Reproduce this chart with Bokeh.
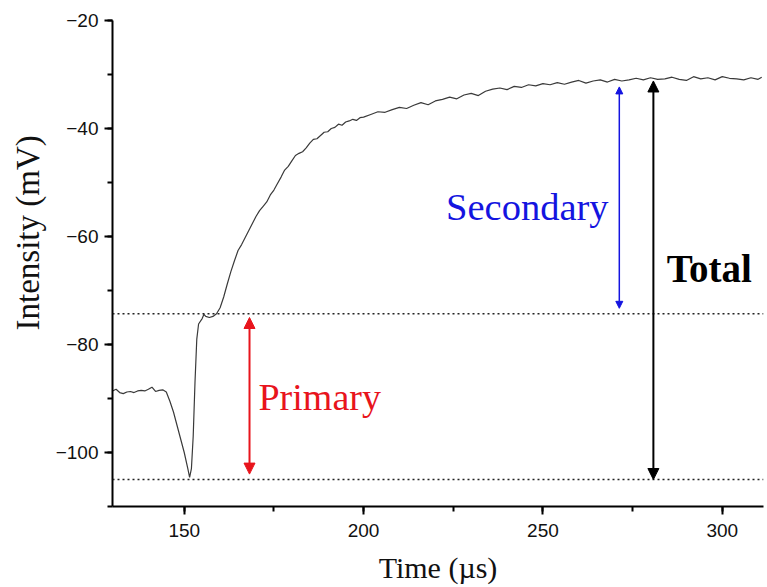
from bokeh.plotting import figure
from bokeh.models import Range1d, SingleIntervalTicker, Span, Arrow, NormalHead, Title
from bokeh.core.properties import value
from bokeh.embed import file_html
from bokeh.resources import INLINE

# Time (µs) and intensity (mV)
time_us = [130, 131, 132, 133, 134, 135, 136, 137, 138, 139, 140, 141, 142, 143, 144, 145,
           146, 147, 148, 149, 150, 151, 151.5, 152, 152.5, 153, 153.5, 154, 155, 155.5,
           156, 157, 158, 159, 160, 161, 162, 163, 164, 165, 166, 167, 168, 169, 170,
           171, 172, 173, 174, 175, 176, 177, 178, 179, 180, 181, 182, 183, 184, 185,
           186, 187, 188, 189, 190, 191, 192, 193, 194, 195, 196, 197, 198, 199, 200,
           202, 204, 206, 208, 210, 212, 214, 216, 218, 220, 222, 224, 226, 228, 230,
           232, 234, 236, 238, 240, 242, 244, 246, 248, 250, 252, 254, 256, 258, 260,
           262, 264, 266, 268, 270, 272, 274, 276, 278, 280, 282, 284, 286, 288, 290,
           292, 294, 296, 298, 300, 302, 304, 306, 308, 310, 311]
intensity_mv = [-88.6, -88.3, -88.9, -89.1, -88.8, -88.7, -88.9, -88.6, -88.5, -88.6, -88.3, -87.9, -88.7, -88.5, -88.4, -88.8,
                -90.5, -92.5, -95.0, -97.5, -100.0, -103.0, -104.6, -103.0, -97.0, -87.0, -79.0, -76.2, -75.2, -74.4,
                -74.8, -75.0, -74.8, -74.3, -73.2, -71.2, -68.8, -66.5, -64.5, -62.6, -61.5, -60.2, -58.9, -57.6, -56.3,
                -55.2, -54.4, -53.6, -52.3, -51.4, -50.2, -49.0, -47.7, -47.0, -46.0, -45.0, -44.6, -44.3, -43.6, -42.7,
                -42.0, -41.9, -41.3, -40.7, -40.6, -40.0, -39.8, -39.2, -39.4, -38.8, -38.6, -38.3, -38.5, -38.0, -37.9,
                -37.4, -36.9, -37.0, -36.5, -36.1, -36.3, -35.7, -35.2, -35.6, -34.9, -34.6, -34.2, -34.5, -33.8, -33.5,
                -33.9, -33.1, -32.7, -32.5, -32.8, -32.2, -32.4, -31.9, -32.1, -31.7, -31.9, -31.5, -31.8, -31.4, -31.1,
                -31.6, -31.2, -31.0, -31.4, -30.9, -31.2, -31.0, -30.7, -31.0, -30.6, -30.9, -30.8, -30.5, -30.9, -31.1,
                -30.4, -30.8, -30.6, -31.0, -30.4, -30.7, -30.8, -31.0, -30.6, -30.9, -30.5]

level_lines = [-74.3, -105.0]
arrow_names = ["Primary", "Secondary", "Total"]
arrow_x = [168.2, 271.3, 280.8]
arrow_y0 = [-104.0, -73.3, -105.0]
arrow_y1 = [-75.0, -32.3, -31.2]
label_x = [170.7, 223.0, 284.5]
label_y = [-89.75, -54.6, -66.0]
colors = ["#e8141c", "#1414e0", "#000000"]

p = figure(width=767, height=587, output_backend="svg", toolbar_location=None,
           x_range=Range1d(130, 311.5), y_range=Range1d(-110, -20))
p.min_border_left = 111
p.min_border_right = 4
p.min_border_top = 20
p.min_border_bottom = 81
p.outline_line_color = None
p.xgrid.visible = False
p.ygrid.visible = False
p.background_fill_color = "white"
p.border_fill_color = "white"

p.xaxis.ticker = SingleIntervalTicker(interval=50, num_minor_ticks=2)
p.yaxis.ticker = SingleIntervalTicker(interval=20, num_minor_ticks=2)
for ax in (p.xaxis, p.yaxis):
    ax.axis_line_width = 2
    ax.axis_line_color = "black"
    ax.major_tick_line_width = 2
    ax.minor_tick_line_width = 2
    ax.major_tick_in = 0
    ax.major_tick_out = 8
    ax.minor_tick_in = 0
    ax.minor_tick_out = 5
    ax.major_label_text_font = "Liberation Sans"
    ax.major_label_text_font_size = "19px"
    ax.major_label_text_color = "#111111"
    ax.axis_label_text_font = "Liberation Serif"
    ax.axis_label_text_font_size = "30px"
    ax.axis_label_text_font_style = "normal"
    ax.axis_label_text_color = "#111111"
p.xaxis.axis_label = "Time (\u00b5s)"
p.xaxis.major_label_standoff = 9
p.yaxis.major_label_standoff = 6
p.xaxis.axis_label_standoff = 11

p.add_layout(Title(text="Intensity (mV)", align="left", offset=176, standoff=14,
                   text_font="Liberation Serif", text_font_size="33px",
                   text_font_style="normal", text_color="#111111"), "left")

for lv in level_lines:
    p.add_layout(Span(location=lv, dimension="width", line_color="#222222",
                      line_dash="2 3", line_width=1.4))

p.line(time_us, intensity_mv, line_color="#3a3a3a", line_width=1.2)

sizes = [11, 7, 11]
widths = [2, 1.5, 2]
for i in range(3):
    c = colors[i]
    p.add_layout(Arrow(x_start=arrow_x[i], y_start=arrow_y0[i], x_end=arrow_x[i], y_end=arrow_y1[i],
                       line_color=c, line_width=widths[i],
                       start=NormalHead(size=sizes[i], fill_color=c, line_color=c, line_width=1),
                       end=NormalHead(size=sizes[i], fill_color=c, line_color=c, line_width=1)))

styles = ["normal", "normal", "bold"]
fsizes = ["38px", "38.5px", "39px"]
for i in range(3):
    p.text(x=[label_x[i]], y=[label_y[i]], text=[arrow_names[i]],
           text_font=value("Liberation Serif"), text_font_size=fsizes[i],
           text_font_style=styles[i], text_color=colors[i],
           text_align="left", text_baseline="alphabetic")

open("out.html", "w").write(file_html(p, INLINE))
